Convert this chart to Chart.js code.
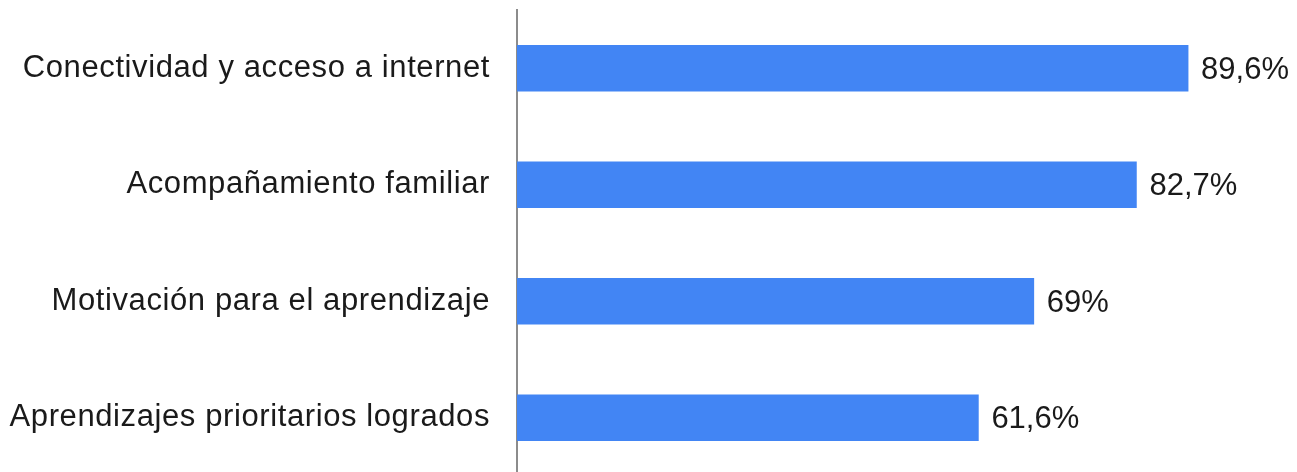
<!DOCTYPE html>
<html>
<head>
<meta charset="utf-8">
<script src="https://cdn.jsdelivr.net/npm/chart.js@4.4.0/dist/chart.umd.min.js"></script>
<style>
  html, body { margin: 0; padding: 0; background: #fff; overflow: hidden; }
  #wrap { position: relative; width: 1297px; height: 476px; }
</style>
</head>
<body>
<div id="wrap"><canvas id="barChart"></canvas></div>
<script>
// data
const categories = [
    'Conectividad y acceso a internet',
    'Acompañamiento familiar',
    'Motivación para el aprendizaje',
    'Aprendizajes prioritarios logrados'
];
const values = [89.6, 82.7, 69, 61.6];
const valueLabels = ['89,6%', '82,7%', '69%', '61,6%'];

const FONT = '"Liberation Sans", Arial, sans-serif';

// the category labels in the picture are slightly spaced out
const spacingPlugin = {
    id: 'labelSpacing',
    beforeDraw(chart) { chart.ctx.letterSpacing = '0.6px'; },
    afterDraw(chart) { chart.ctx.letterSpacing = '0px'; }
};

// draw the percentage next to each bar
const valueLabelPlugin = {
    id: 'valueLabels',
    afterDatasetsDraw(chart) {
        const ctx = chart.ctx;
        const meta = chart.getDatasetMeta(0);
        ctx.save();
        ctx.letterSpacing = '0px';
        ctx.font = '31px ' + FONT;
        ctx.fillStyle = '#1a1a1a';
        ctx.textAlign = 'left';
        ctx.textBaseline = 'middle';
        meta.data.forEach((bar, i) => {
            ctx.fillText(valueLabels[i], bar.x + 13, bar.y + 2);
        });
        ctx.restore();
    }
};

new Chart(document.getElementById('barChart'), {
    type: 'bar',
    data: {
        labels: categories,
        datasets: [{
            data: values,
            backgroundColor: '#4285f4',
            borderWidth: 0,
            barThickness: 46
        }]
    },
    options: {
        indexAxis: 'y',
        responsive: true,
        maintainAspectRatio: false,
        animation: false,
        layout: {
            padding: { top: 10, right: 31, bottom: 0, left: 0 }
        },
        plugins: {
            legend: { display: false },
            tooltip: { enabled: false }
        },
        scales: {
            x: {
                display: false,
                min: 0,
                max: 100
            },
            y: {
                afterFit(scale) {
                    scale.width = 517;
                    scale.paddingTop = 0;
                    scale.paddingBottom = 0;
                },
                grid: { display: false, drawTicks: false },
                border: { display: true, color: '#8c8c8c', width: 2 },
                ticks: {
                    padding: 27,
                    color: '#1a1a1a',
                    font: { family: FONT, size: 31 }
                }
            }
        }
    },
    plugins: [spacingPlugin, valueLabelPlugin]
});
</script>
</body>
</html>
